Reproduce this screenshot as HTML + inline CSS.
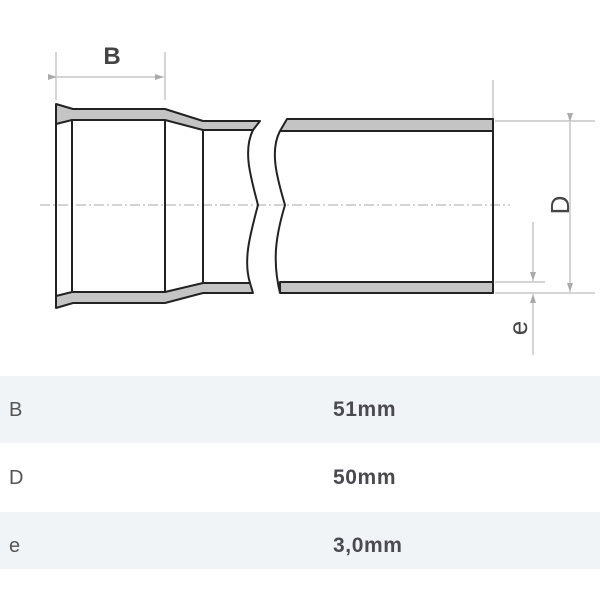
<!DOCTYPE html>
<html><head><style>
body{margin:0;width:600px;height:600px;background:#fff;overflow:hidden;position:relative;font-family:"Liberation Sans",sans-serif}
svg{position:absolute;left:0;top:0}
.r{position:absolute;left:0;width:600px}
.l{position:absolute;left:9px;font-size:20px;color:#555}
.v{position:absolute;left:333px;font-size:21px;font-weight:bold;color:#4a4a50;letter-spacing:0.6px}
</style></head><body>
<div class="r" style="top:376px;height:67px;background:#f1f4f7"></div>
<div class="r" style="top:512px;height:57px;background:#f1f4f7"></div>
<div class="l" style="top:399px">B</div><div class="v" style="top:398px">51mm</div>
<div class="l" style="top:467px">D</div><div class="v" style="top:466px">50mm</div>
<div class="l" style="top:535px">e</div><div class="v" style="top:534px">3,0mm</div>
<svg width="600" height="370" viewBox="0 0 600 370">
<defs><marker id="a" markerWidth="10" markerHeight="8" refX="9" refY="4" orient="auto" markerUnits="userSpaceOnUse"><path d="M0,1 L9,4 L0,7 Z" fill="#aaa"/></marker></defs>
<g stroke="#aaa" stroke-width="1" fill="none">
<line x1="40" y1="205" x2="510" y2="205" stroke-dasharray="10,3,2,3"/>
<line x1="56" y1="52" x2="56" y2="100"/><line x1="165" y1="52" x2="165" y2="100"/>
<line x1="57" y1="77" x2="164" y2="77" marker-end="url(#a)" marker-start="url(#a)"/>
<line x1="493" y1="80" x2="493" y2="119"/>
<line x1="495" y1="121" x2="595" y2="121"/><line x1="495" y1="293" x2="595" y2="293"/>
<line x1="495" y1="282" x2="545" y2="282"/>
<line x1="570" y1="122" x2="570" y2="292" marker-end="url(#a)" marker-start="url(#a)"/>
<line x1="533" y1="222" x2="533" y2="281" marker-end="url(#a)"/>
<line x1="533" y1="355" x2="533" y2="294" marker-end="url(#a)"/>
</g>
<g stroke="#222" stroke-width="2" fill="#c4c4c4" stroke-linejoin="round">
<path d="M56,104 L73,109 L165,109 L203,121 L260,121 L253,130 L203,130 L165,120 L72,120 L56,124 Z"/>
<path d="M56,308 L73,303 L165,303 L203,293 L253,293 L250,283 L203,283 L165,292 L72,292 L56,296 Z"/>
<path d="M280,131 L287,119 L493,119 L493,131 Z"/>
<path d="M280,282 L493,282 L493,293 L280,293 Z"/>
</g>
<g stroke="#222" stroke-width="2" fill="none">
<line x1="56" y1="104" x2="56" y2="308"/>
<line x1="72" y1="120" x2="72" y2="292"/>
<line x1="165" y1="120" x2="165" y2="292"/>
<line x1="203" y1="130" x2="203" y2="283"/>
<path d="M253,130 C243,150 250,175 258,205 C250,235 243,260 250,283"/>
<path d="M280,131 C270,150 276,175 285,205 C276,235 272,260 280,293"/>
<line x1="493" y1="119" x2="493" y2="293"/>
</g>
<text x="112" y="64" font-size="24" font-weight="bold" fill="#444" text-anchor="middle" font-family="Liberation Sans,sans-serif">B</text>
<text transform="translate(569,205) rotate(-90)" font-size="26" fill="#444" text-anchor="middle" font-family="Liberation Sans,sans-serif">D</text>
<text transform="translate(527,328) rotate(-90)" font-size="26" fill="#444" text-anchor="middle" font-family="Liberation Sans,sans-serif">e</text>
</svg>
</body></html>
